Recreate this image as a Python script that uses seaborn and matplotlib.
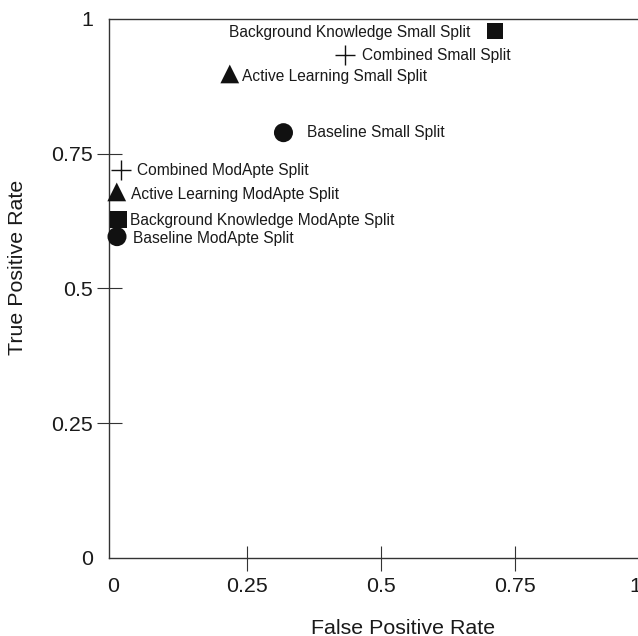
import matplotlib
matplotlib.use("Agg")
import matplotlib.pyplot as plt
import matplotlib.transforms as mtransforms
import seaborn as sns
import pandas as pd

# ---- data ----
labels = [
    "Background Knowledge Small Split",
    "Combined Small Split",
    "Active Learning Small Split",
    "Baseline Small Split",
    "Combined ModApte Split",
    "Active Learning ModApte Split",
    "Background Knowledge ModApte Split",
    "Baseline ModApte Split",
]
methods = ["Background Knowledge", "Combined", "Active Learning", "Baseline",
           "Combined", "Active Learning", "Background Knowledge", "Baseline"]
fpr = [0.712, 0.433, 0.218, 0.318, 0.015, 0.0075, 0.011, 0.008]
tpr = [0.978, 0.934, 0.898, 0.789, 0.719, 0.679, 0.628, 0.596]

tick_values = [0, 0.25, 0.5, 0.75, 1]
tick_labels = ["0", "0.25", "0.5", "0.75", "1"]

# ---- styling ----
marker_of = {"Background Knowledge": "s", "Combined": "+",
             "Active Learning": "^", "Baseline": "o"}
msize_of = {"Background Knowledge": 12.0, "Combined": 14.4,
            "Active Learning": 13.5, "Baseline": 13.7}
# label offsets (points) relative to marker centre
label_dx = [-18.0, 12.2, 8.6, 16.6, 11.5, 10.3, 7.9, 11.5]
label_dy = [-4.3, -3.6, -5.2, -3.2, -3.6, -5.4, -3.8, -4.5]
label_ha = ["right", "left", "left", "left", "left", "left", "left", "left"]

sns.set_style("ticks")
plt.rcParams["font.family"] = ["Liberation Sans", "DejaVu Sans"]

df = pd.DataFrame({"label": labels, "method": methods, "fpr": fpr, "tpr": tpr})

fig = plt.figure(figsize=(6.38, 6.36), dpi=100)
ax = fig.add_axes([109 / 638, 78.3 / 636, 540.7 / 638, 538.7 / 636])

for m, sub in df.groupby("method", sort=False):
    if marker_of[m] == "+":
        sns.scatterplot(data=sub, x="fpr", y="tpr", marker="+", s=msize_of[m] ** 2,
                        color="#111111", linewidth=1.0, ax=ax, legend=False,
                        clip_on=False, zorder=3)
    else:
        sns.scatterplot(data=sub, x="fpr", y="tpr", marker=marker_of[m],
                        s=msize_of[m] ** 2, color="#111111", linewidth=0,
                        edgecolor="none", ax=ax, legend=False,
                        clip_on=False, zorder=3)

for i, row in df.iterrows():
    ax.annotate(row["label"], xy=(row["fpr"], row["tpr"]),
                xytext=(label_dx[i], label_dy[i]), textcoords="offset points",
                ha=label_ha[i], va="baseline", fontsize=11.2, color="#1a1a1a")

ax.set_xlim(-0.0069, 1.0)
ax.set_ylim(0, 1.0)
ax.set_xticks(tick_values)
ax.set_xticklabels(tick_labels)
ax.set_yticks(tick_values)
ax.set_yticklabels(tick_labels)

for sp in ax.spines.values():
    sp.set_visible(True)
    sp.set_linewidth(1.0)
    sp.set_color("#333333")

ax.tick_params(axis="both", direction="inout", length=18, width=0.8,
               color="#333333", labelsize=15.4, labelcolor="#1a1a1a")
ax.tick_params(axis="x", pad=5.2)
ax.tick_params(axis="y", pad=2.3)

# the reference draws no tick marks at the ends (0 and 1)
for axis in (ax.xaxis, ax.yaxis):
    for tick, val in zip(axis.get_major_ticks(), tick_values):
        if val in (0, 1):
            tick.tick1line.set_visible(False)
            tick.tick2line.set_visible(False)

# the "1" on the x axis sits partly inside the right edge in the reference
last = ax.xaxis.get_major_ticks()[-1].label1
last.set_transform(last.get_transform() +
                   mtransforms.ScaledTranslation(-0.14, 0, fig.dpi_scale_trans))

ax.set_xlabel("False Positive Rate", fontsize=15.4, color="#1a1a1a")
ax.set_ylabel("True Positive Rate", fontsize=15.4, color="#1a1a1a")
ax.xaxis.label.set_va("center")
ax.xaxis.label.set_ha("center")
ax.yaxis.label.set_va("center")
ax.yaxis.label.set_ha("center")
ax.xaxis.set_label_coords(0.544, -0.1305)
ax.yaxis.set_label_coords(-0.1692, 0.5387)

fig.savefig("out.png", dpi=100)
